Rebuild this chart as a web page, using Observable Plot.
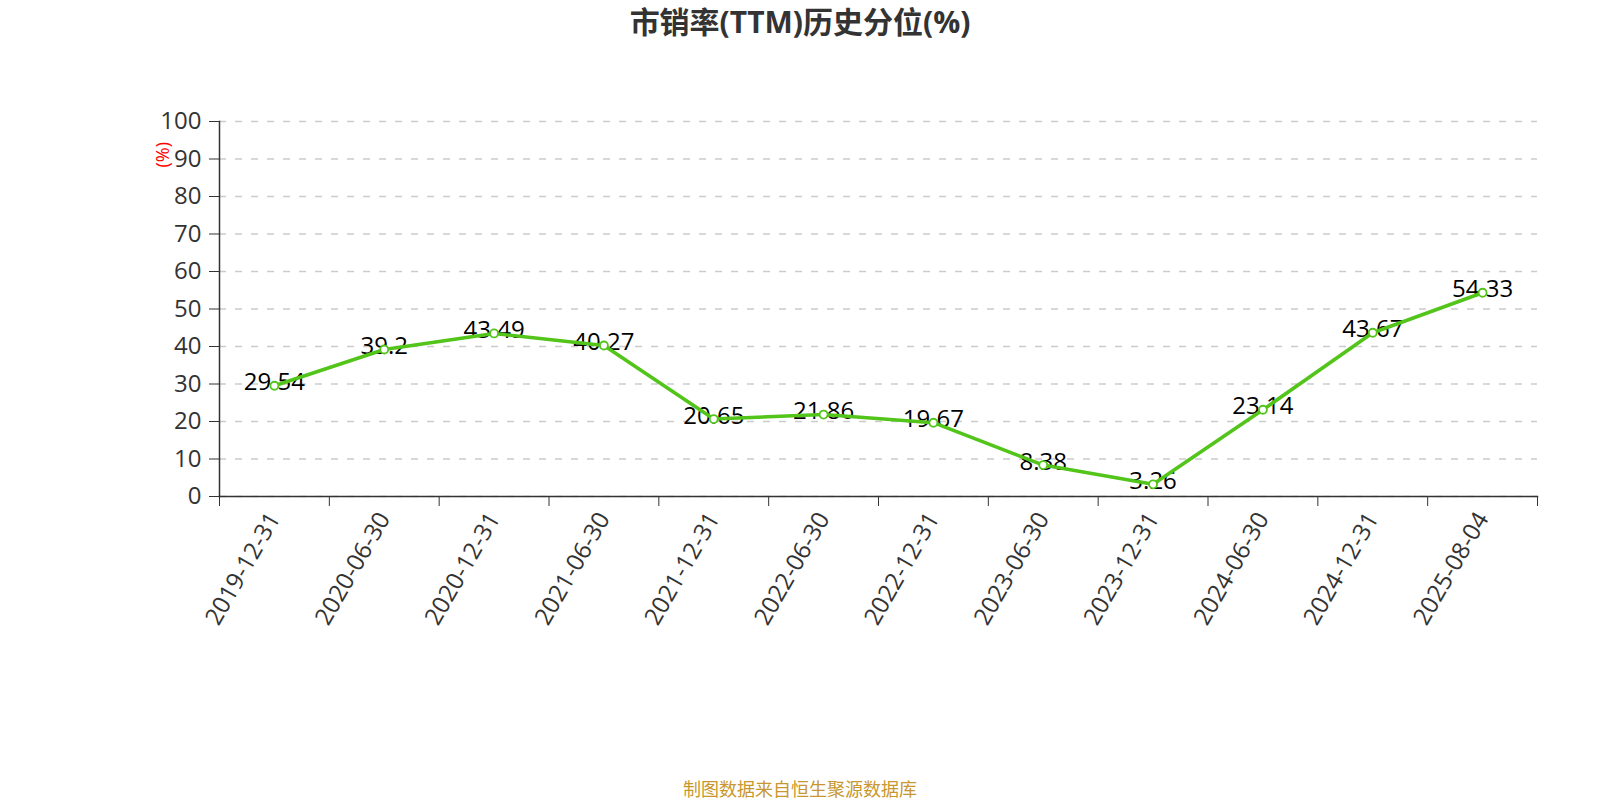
<!DOCTYPE html>
<html>
<head>
<meta charset="utf-8">
<script src="https://cdn.jsdelivr.net/npm/d3@7"></script>
<script src="https://cdn.jsdelivr.net/npm/@observablehq/plot@0.6"></script>
<style>
  html, body { margin: 0; padding: 0; background: #fff; overflow: hidden; }
  #wrap { width: 1600px; height: 800px; }
  #title { height: 44px; line-height: 44px; text-align: center; font-family: 'Open Sans', 'Noto Sans CJK SC', sans-serif; font-weight: bold; font-size: 30px; color: #333; }
  #caption { height: 31px; line-height: 38px; text-align: center; font-family: 'Noto Sans CJK SC', sans-serif; font-size: 18px; color: #c8972f; }
</style>
</head>
<body>
<div id="wrap">
  <div id="title">市销率(TTM)历史分位(%)</div>
  <div id="chart"></div>
  <div id="caption">制图数据来自恒生聚源数据库</div>
</div>
<script>
const dates = ["2019-12-31","2020-06-30","2020-12-31","2021-06-30","2021-12-31","2022-06-30","2022-12-31","2023-06-30","2023-12-31","2024-06-30","2024-12-31","2025-08-04"];
const values = [29.54, 39.2, 43.49, 40.27, 20.65, 21.86, 19.67, 8.38, 3.26, 23.14, 43.67, 54.33];
const yTicks = [0, 10, 20, 30, 40, 50, 60, 70, 80, 90, 100];
const unitLabel = "(%)";

const green = "#52c41a";
const data = dates.map((d, i) => ({pos: i + 0.5, date: d, value: values[i]}));
const bandEdges = d3.range(0, dates.length + 1);
const bandCenters = dates.map((d, i) => i + 0.5);

const chart = Plot.plot({
  width: 1600,
  height: 725,
  marginTop: 77,
  marginBottom: 273,
  marginLeft: 219,
  marginRight: 63,
  style: {fontFamily: "'Open Sans', 'Noto Sans CJK SC', sans-serif", background: "#fff"},
  x: {type: "linear", domain: [0, dates.length]},
  y: {domain: [0, 100]},
  marks: [
    Plot.gridY(yTicks, {stroke: "#cccccc", strokeOpacity: 1, strokeDasharray: "7,9", strokeWidth: 1.6}),
    Plot.axisY(yTicks, {tickSize: 10, tickPadding: 8, fontSize: 24, color: "#333", label: null}),
    Plot.axisX(bandEdges, {tickSize: 10, tickFormat: () => "", color: "#333", label: null}),
    Plot.axisX(bandCenters, {tickSize: 0, tickPadding: 18, tickRotate: -60, fontSize: 24, fill: "#333", tickFormat: (v) => dates[Math.floor(v)], label: null}),
    Plot.frame({anchor: "left", stroke: "#333", strokeWidth: 1.5}),
    Plot.frame({anchor: "bottom", stroke: "#333", strokeWidth: 1.5}),
    Plot.text([unitLabel], {frameAnchor: "top-left", dx: -63, dy: 46, rotate: -90, fill: "red", fontSize: 18}),
    Plot.text(data, {x: "pos", y: "value", text: (d) => String(d.value), fontSize: 24, fill: "#000", dy: -3}),
    Plot.line(data, {x: "pos", y: "value", stroke: green, strokeWidth: 3.5}),
    Plot.dot(data, {x: "pos", y: "value", r: 4, fill: "white", stroke: green, strokeWidth: 1.8})
  ]
});
document.getElementById("chart").appendChild(chart);
</script>
</body>
</html>
